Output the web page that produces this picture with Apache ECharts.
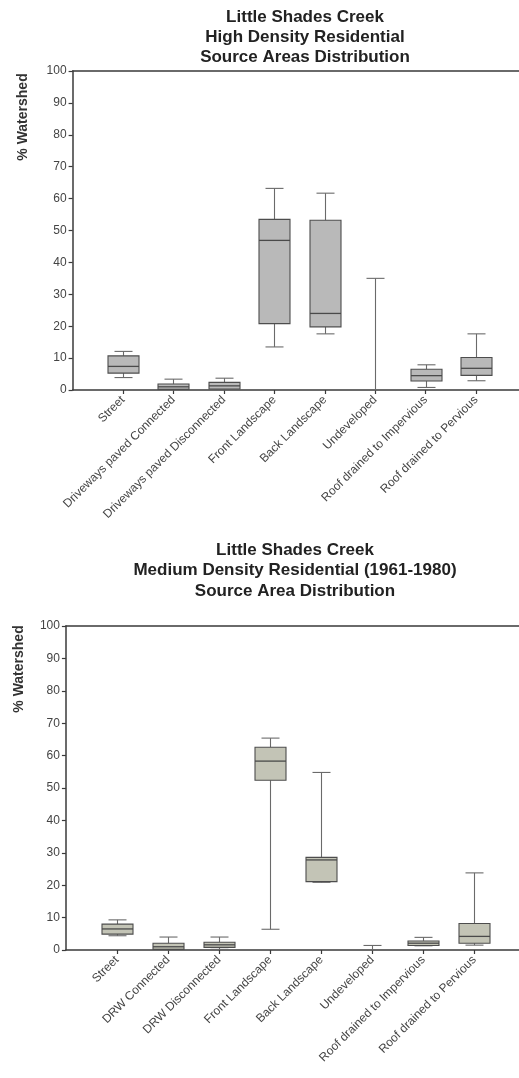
<!DOCTYPE html>
<html>
<head>
<meta charset="utf-8">
<title>Little Shades Creek – Source Area Distributions</title>
<script src="https://cdn.jsdelivr.net/npm/echarts@6/dist/echarts.min.js"></script>
<style>
  html, body { margin: 0; padding: 0; background: #fff; }
  #chart { width: 519px; height: 1078px; }
</style>
</head>
<body>
<div id="chart"></div>
<script>
// ---- High density residential source areas ----
const highCategories = ['Street', 'Driveways paved Connected', 'Driveways paved Disconnected',
  'Front Landscape', 'Back Landscape', 'Undeveloped',
  'Roof drained to Impervious', 'Roof drained to Pervious'];
const highMin    = [3.9, 0.0, 0.0, 13.5, 17.6, 0.0, 0.8, 2.9];
const highQ1     = [5.3, 0.2, 0.3, 20.8, 19.8, 0.0, 2.8, 4.6];
const highMedian = [7.4, 1.0, 1.3, 46.9, 24.0, 0.0, 4.5, 6.8];
const highQ3     = [10.7, 1.9, 2.4, 53.5, 53.2, 0.0, 6.5, 10.2];
const highMax    = [12.1, 3.4, 3.7, 63.2, 61.7, 35.0, 7.9, 17.6];

// ---- Medium density residential (1961-1980) source areas ----
const medCategories = ['Street', 'DRW Connected', 'DRW Disconnected',
  'Front Landscape', 'Back Landscape', 'Undeveloped',
  'Roof drained to Impervious', 'Roof drained to Pervious'];
const medMin    = [4.4, 0.0, 0.2, 6.4, 20.9, 0.0, 1.3, 1.5];
const medQ1     = [4.9, 0.2, 0.8, 52.4, 21.1, 0.0, 1.4, 2.1];
const medMedian = [6.5, 1.0, 1.6, 58.3, 27.8, 0.0, 2.1, 4.2];
const medQ3     = [8.0, 2.1, 2.4, 62.6, 28.6, 0.0, 2.8, 8.2];
const medMax    = [9.3, 4.0, 4.0, 65.4, 54.8, 1.4, 3.9, 23.8];

const yTicks = [0, 10, 20, 30, 40, 50, 60, 70, 80, 90, 100];

function boxRows(mins, q1s, meds, q3s, maxs) {
  return mins.map((m, i) => [i + 1, m, q1s[i], meds[i], q3s[i], maxs[i]]);
}

// Draws one box-and-whisker glyph in axis coordinates
function makeRenderer(fill) {
  return function (params, api) {
    const x = api.value(0);
    const pMin = api.coord([x, api.value(1)]);
    const pQ1 = api.coord([x, api.value(2)]);
    const pMed = api.coord([x, api.value(3)]);
    const pQ3 = api.coord([x, api.value(4)]);
    const pMax = api.coord([x, api.value(5)]);
    const cx = Math.round(pMin[0]) + 0.5;
    const boxW = 31, capW = 18;
    const whisker = { stroke: '#6a6a6a', lineWidth: 1.1 };
    const children = [
      { type: 'line', shape: { x1: cx, y1: pQ3[1], x2: cx, y2: pMax[1] }, style: whisker },
      { type: 'line', shape: { x1: cx, y1: pMin[1], x2: cx, y2: pQ1[1] }, style: whisker },
      { type: 'line', shape: { x1: cx - capW / 2, y1: pMax[1], x2: cx + capW / 2, y2: pMax[1] }, style: whisker },
      { type: 'line', shape: { x1: cx - capW / 2, y1: pMin[1], x2: cx + capW / 2, y2: pMin[1] }, style: whisker }
    ];
    const h = pQ1[1] - pQ3[1];
    if (h > 0.5) {
      children.push({
        type: 'rect',
        shape: { x: cx - boxW / 2, y: pQ3[1], width: boxW, height: h },
        style: { fill: fill, stroke: '#4d4d4d', lineWidth: 1.1 }
      });
      children.push({
        type: 'line',
        shape: { x1: cx - boxW / 2, y1: pMed[1], x2: cx + boxW / 2, y2: pMed[1] },
        style: { stroke: '#4a4a4a', lineWidth: 1.3 }
      });
    }
    return { type: 'group', children: children };
  };
}

const labelFont = 'Liberation Sans, Arial, sans-serif';
const axisColor = '#3a3a3a';

function xAxisFor(gridIndex, categories, max) {
  const positions = categories.map((c, i) => i + 1);
  return {
    type: 'value', gridIndex: gridIndex, min: 0, max: max, interval: 1,
    splitLine: { show: false },
    axisLine: { show: true, lineStyle: { color: axisColor, width: 1.5 } },
    axisTick: { show: true, length: 4, customValues: positions, lineStyle: { color: axisColor, width: 1.2 } },
    axisLabel: {
      customValues: positions,
      rotate: 45, margin: 8,
      fontFamily: labelFont, fontSize: 12, color: '#444',
      formatter: v => categories[Math.round(v) - 1] || ''
    }
  };
}

// Plain line closing the top of the plot frame
function topFrameFor(gridIndex, max) {
  return {
    type: 'value', gridIndex: gridIndex, position: 'top', min: 0, max: max,
    splitLine: { show: false }, axisTick: { show: false }, axisLabel: { show: false },
    axisLine: { show: true, lineStyle: { color: axisColor, width: 1.5 } }
  };
}

function yAxisFor(gridIndex) {
  return {
    type: 'value', gridIndex: gridIndex, min: 0, max: 100, interval: 10,
    splitLine: { show: false },
    axisLine: { show: true, lineStyle: { color: axisColor, width: 1.5 } },
    axisTick: { show: true, length: 4, inside: false, lineStyle: { color: axisColor, width: 1.2 } },
    axisLabel: {
      margin: 6, fontFamily: labelFont, fontSize: 12, color: '#444',
      customValues: yTicks
    }
  };
}

const titleStyle = (text, x, y, lh) => ({
  type: 'text', x: x, y: y,
  style: {
    text: text, textAlign: 'center', textVerticalAlign: 'top',
    font: 'bold 17px ' + labelFont, fill: '#222', lineHeight: lh
  }
});

const axisNameStyle = (x, y) => ({
  type: 'text', x: x, y: y, rotation: Math.PI / 2,
  style: {
    text: '% Watershed', textAlign: 'center', textVerticalAlign: 'middle',
    font: 'bold 14px ' + labelFont, fill: '#333'
  }
});

const chart = echarts.init(document.getElementById('chart'), null, { renderer: 'canvas' });
chart.setOption({
  animation: false,
  backgroundColor: '#ffffff',
  grid: [
    { left: 72.6, top: 71, width: 450.4, height: 319, show: false, outerBoundsMode: 'none' },
    { left: 65.9, top: 626, width: 457.1, height: 324, show: false, outerBoundsMode: 'none' }
  ],
  xAxis: [
    xAxisFor(0, highCategories, 8.93), xAxisFor(1, medCategories, 8.95),
    topFrameFor(0, 8.93), topFrameFor(1, 8.95)
  ],
  yAxis: [yAxisFor(0), yAxisFor(1)],
  graphic: [
    titleStyle('Little Shades Creek\nHigh Density Residential\nSource Areas Distribution', 305, 7, 20),
    titleStyle('Little Shades Creek\nMedium Density Residential (1961-1980)\nSource Area Distribution', 295, 540, 20.5),
    axisNameStyle(23, 117),
    axisNameStyle(19, 669)
  ],
  series: [
    {
      type: 'custom', xAxisIndex: 0, yAxisIndex: 0,
      renderItem: makeRenderer('#b9b9b9'),
      encode: { x: 0, y: [1, 2, 3, 4, 5] },
      data: boxRows(highMin, highQ1, highMedian, highQ3, highMax)
    },
    {
      type: 'custom', xAxisIndex: 1, yAxisIndex: 1,
      renderItem: makeRenderer('#c3c4b6'),
      encode: { x: 0, y: [1, 2, 3, 4, 5] },
      data: boxRows(medMin, medQ1, medMedian, medQ3, medMax)
    }
  ]
});
</script>
</body>
</html>
